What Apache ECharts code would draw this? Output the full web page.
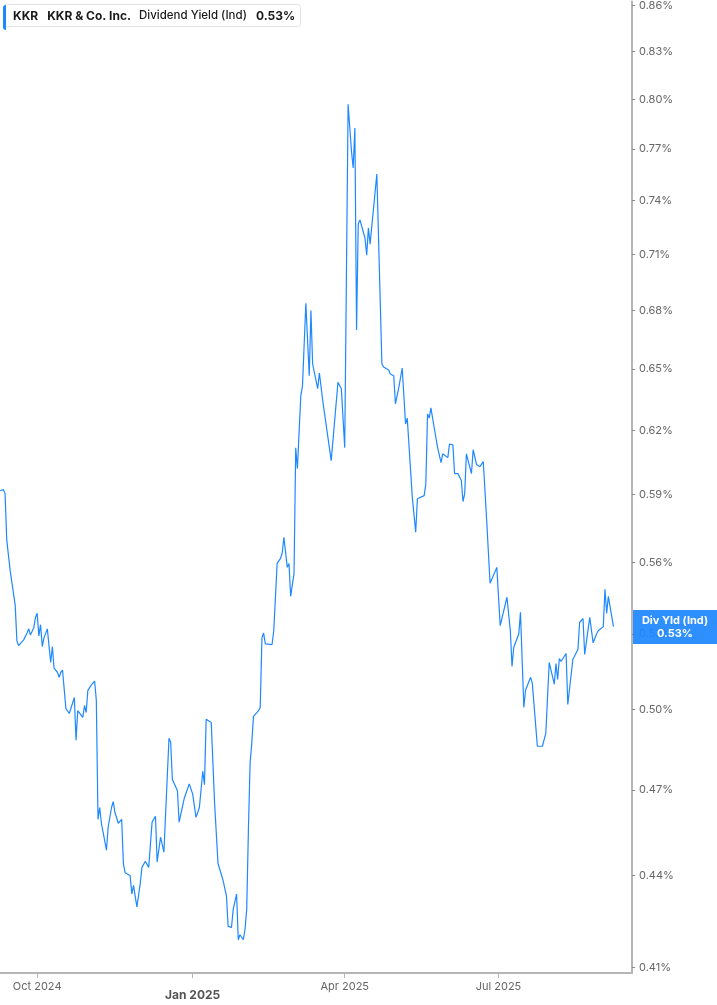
<!DOCTYPE html>
<html>
<head>
<meta charset="utf-8">
<script src="https://cdn.jsdelivr.net/npm/echarts@6/dist/echarts.min.js"></script>
<style>
html,body{margin:0;padding:0;background:#fff;}
#chart{width:717px;height:1005px;}
</style>
</head>
<body>
<div id="chart"></div>
<script>
const dates = [
'2024-09-09','2024-09-11','2024-09-12','2024-09-13','2024-09-15','2024-09-18','2024-09-19','2024-09-20','2024-09-21','2024-09-23',
'2024-09-25','2024-09-26','2024-09-27','2024-09-29','2024-09-30','2024-10-01','2024-10-02','2024-10-03','2024-10-04','2024-10-05',
'2024-10-07','2024-10-08','2024-10-09','2024-10-10','2024-10-11','2024-10-13','2024-10-14','2024-10-15','2024-10-16','2024-10-18',
'2024-10-20','2024-10-21','2024-10-23','2024-10-24','2024-10-25','2024-10-28','2024-10-29','2024-10-30','2024-10-31','2024-11-02',
'2024-11-04','2024-11-05','2024-11-06','2024-11-07','2024-11-08','2024-11-11','2024-11-12','2024-11-14','2024-11-15','2024-11-16',
'2024-11-18','2024-11-19','2024-11-20','2024-11-21','2024-11-22','2024-11-25','2024-11-26','2024-11-27','2024-11-29','2024-12-01',
'2024-12-02','2024-12-04','2024-12-06','2024-12-08','2024-12-10','2024-12-11','2024-12-13','2024-12-15','2024-12-18','2024-12-19',
'2024-12-20','2024-12-23','2024-12-24','2024-12-25','2024-12-27','2024-12-30','2025-01-01','2025-01-03','2025-01-05','2025-01-07',
'2025-01-08','2025-01-09','2025-01-12','2025-01-14','2025-01-16','2025-01-19','2025-01-21','2025-01-22','2025-01-24','2025-01-25',
'2025-01-27','2025-01-28','2025-01-29','2025-01-31','2025-02-01','2025-02-02','2025-02-03','2025-02-04','2025-02-05','2025-02-06',
'2025-02-09','2025-02-10','2025-02-11','2025-02-12','2025-02-13','2025-02-17','2025-02-18','2025-02-20','2025-02-22','2025-02-23',
'2025-02-24','2025-02-26','2025-02-27','2025-02-28','2025-03-02','2025-03-03','2025-03-04','2025-03-06','2025-03-07','2025-03-09',
'2025-03-11','2025-03-12','2025-03-13','2025-03-16','2025-03-17','2025-03-19','2025-03-20','2025-03-24','2025-03-25','2025-03-28',
'2025-03-30','2025-04-01','2025-04-03','2025-04-05','2025-04-06','2025-04-07','2025-04-08','2025-04-09','2025-04-10','2025-04-13',
'2025-04-14','2025-04-15','2025-04-16','2025-04-20','2025-04-23','2025-04-24','2025-04-27','2025-04-28','2025-04-30','2025-05-01',
'2025-05-03','2025-05-05','2025-05-07','2025-05-08','2025-05-11','2025-05-13','2025-05-14','2025-05-15','2025-05-18','2025-05-19',
'2025-05-20','2025-05-21','2025-05-22','2025-05-24','2025-05-26','2025-05-27','2025-05-28','2025-05-29','2025-06-01','2025-06-02',
'2025-06-04','2025-06-05','2025-06-07','2025-06-08','2025-06-09','2025-06-10','2025-06-11','2025-06-12','2025-06-15','2025-06-16',
'2025-06-18','2025-06-20','2025-06-22','2025-06-24','2025-06-26','2025-06-30','2025-07-02','2025-07-06','2025-07-08','2025-07-09',
'2025-07-10','2025-07-13','2025-07-14','2025-07-16','2025-07-17','2025-07-20','2025-07-21','2025-07-24','2025-07-27','2025-07-29',
'2025-07-31','2025-08-03','2025-08-04','2025-08-05','2025-08-06','2025-08-07','2025-08-10','2025-08-11','2025-08-12','2025-08-14',
'2025-08-17','2025-08-18','2025-08-20','2025-08-21','2025-08-24','2025-08-26','2025-08-28','2025-08-29','2025-09-01','2025-09-02',
'2025-09-03','2025-09-04','2025-09-07'
];
const divYield = [
0.5918,0.5923,0.5905,0.5697,0.5566,0.5418,0.5272,0.5253,0.5260,0.5276,
0.5304,0.5321,0.5296,0.5325,0.5368,0.5385,0.5292,0.5338,0.5249,0.5284,
0.5321,0.5325,0.5185,0.5249,0.5162,0.5146,0.5126,0.5146,0.5154,0.5004,
0.4985,0.4978,0.5047,0.4884,0.4996,0.4970,0.5016,0.4989,0.5075,0.5095,
0.5111,0.5036,0.4595,0.4637,0.4581,0.4487,0.4567,0.4637,0.4658,0.4620,
0.4581,0.4578,0.4595,0.4442,0.4410,0.4400,0.4338,0.4367,0.4295,0.4374,
0.4428,0.4449,0.4428,0.4585,0.4606,0.4446,0.4532,0.4480,0.4891,0.4876,
0.4738,0.4697,0.4585,0.4585,0.4669,0.4722,0.4686,0.4602,0.4637,0.4768,
0.4719,0.4963,0.4951,0.4651,0.4442,0.4384,0.4332,0.4231,0.4228,0.4287,
0.4338,0.4188,0.4204,0.4188,0.4221,0.4287,0.4557,0.4798,0.4873,0.4974,
0.4996,0.5008,0.5284,0.5304,0.5260,0.5257,0.5313,0.5596,0.5618,0.5640,
0.5710,0.5579,0.5596,0.5456,0.5553,0.6117,0.6020,0.6367,0.6416,0.6838,
0.6466,0.6800,0.6525,0.6402,0.6480,0.6343,0.6348,0.6057,0.6062,0.6434,
0.6402,0.6117,0.7970,0.7687,0.7588,0.7825,0.6698,0.7268,0.7291,0.7190,
0.7095,0.7246,0.7156,0.7553,0.6525,0.6510,0.6495,0.6475,0.6466,0.6328,
0.6407,0.6505,0.6230,0.6259,0.5887,0.5732,0.5882,0.5874,0.5896,0.5951,
0.6279,0.6259,0.6308,0.6210,0.6117,0.6108,0.6048,0.6089,0.6071,0.6135,
0.6131,0.5997,0.5997,0.5997,0.5965,0.5869,0.5905,0.6089,0.5997,0.6108,
0.6039,0.6029,0.6052,0.5785,0.5511,0.5579,0.5334,0.5452,0.5313,0.5169,
0.5245,0.5300,0.5389,0.5008,0.5075,0.5126,0.5103,0.4861,0.4861,0.4910,
0.5185,0.5099,0.5181,0.5118,0.5201,0.5189,0.5221,0.5020,0.5016,0.5197,
0.5237,0.5347,0.5363,0.5217,0.5368,0.5264,0.5300,0.5313,0.5330,0.5486,
0.5385,0.5456,0.5330
];
const yTicks = [0.41,0.44,0.47,0.50,0.53,0.56,0.59,0.62,0.65,0.68,0.71,0.74,0.77,0.80,0.83,0.86];
const xTicks = ['2024-10-01','2025-01-01','2025-04-01','2025-07-01'];
const xRange = ['2024-09-09','2025-09-18'];
const yRange = [0.4082, 0.8627];
const ticker = 'KKR', company = 'KKR & Co. Inc.', metric = 'Dividend Yield (Ind)', shortMetric = 'Div Yld (Ind)';

const toTs = s => Date.parse(s + 'T00:00:00Z');
const lastVal = divYield[divYield.length - 1];
const fmtPct = v => v.toFixed(2) + '%';
const MONTHS = ['Jan','Feb','Mar','Apr','May','Jun','Jul','Aug','Sep','Oct','Nov','Dec'];
const chart = echarts.init(document.getElementById('chart'), null, {renderer: 'canvas'});
const FONT = 'Inter, Roboto, "Noto Sans", sans-serif';

chart.setOption({
  animation: false,
  backgroundColor: '#fff',
  grid: {left: 0, right: 85, top: 0, bottom: 32, containLabel: false},
  title: {
    text: '{a|' + ticker + '}{b|' + company + '}{c|' + metric + '}{d|' + fmtPct(lastVal) + '}',
    left: 3, top: 4,
    backgroundColor: '#fff', borderColor: '#e3e3e3', borderWidth: 1, borderRadius: 3,
    padding: [6, 6, 5, 10],
    textStyle: {
      rich: {
        a: {fontFamily: FONT, fontSize: 12, fontWeight: 'bold', color: '#1a1a1a', padding: [0, 9, 0, 0]},
        b: {fontFamily: FONT, fontSize: 12, fontWeight: 'bold', color: '#1a1a1a', padding: [0, 8, 0, 0]},
        c: {fontFamily: FONT, fontSize: 11.5, fontWeight: 500, color: '#1a1a1a', padding: [0, 9, 0, 0]},
        d: {fontFamily: FONT, fontSize: 12, fontWeight: 'bold', color: '#1a1a1a'}
      }
    }
  },
  graphic: [{type: 'rect', left: 3, top: 5, shape: {width: 3, height: 25, r: [3, 0, 0, 3]}, style: {fill: '#1e88ff'}, z: 100}],
  xAxis: {
    type: 'value',
    min: toTs(xRange[0]), max: toTs(xRange[1]),
    splitLine: {show: false},
    axisLine: {show: true, lineStyle: {color: '#b5b5b5', width: 2}},
    axisTick: {show: true, customValues: xTicks.map(toTs), length: 5, lineStyle: {color: '#b5b5b5', width: 1}},
    axisLabel: {
      customValues: xTicks.map(toTs),
      margin: 8,
      color: '#666', fontFamily: FONT, fontSize: 11,
      formatter: function (val) {
        const d = new Date(val);
        const m = d.getUTCMonth();
        const s = MONTHS[m] + ' ' + d.getUTCFullYear();
        return m === 0 ? '{y|' + s + '}' : s;
      },
      rich: {y: {fontFamily: FONT, fontSize: 12, fontWeight: 'bold', color: '#555', padding: [8, 0, 0, 0]}}
    }
  },
  yAxis: {
    type: 'log', logBase: 10, position: 'right',
    min: yRange[0], max: yRange[1],
    splitLine: {show: false},
    axisLine: {show: true, lineStyle: {color: '#b5b5b5', width: 2}},
    axisTick: {show: true, customValues: yTicks, length: 3, lineStyle: {color: '#888'}},
    axisLabel: {customValues: yTicks, margin: 7, color: '#666', fontFamily: FONT, fontSize: 11, formatter: v => fmtPct(v)}
  },
  series: [{
    type: 'line',
    data: dates.map((d, i) => [toTs(d), divYield[i]]),
    showSymbol: false,
    lineStyle: {color: '#1e88ff', width: 1.2},
    markLine: {
      silent: true, symbol: ['none', 'none'],
      lineStyle: {color: 'rgba(0,0,0,0)', width: 0, type: 'solid'},
      emphasis: {disabled: true},
      data: [{yAxis: lastVal}],
      label: {
        show: true, position: 'end', distance: 1, offset: [42, -7],
        formatter: shortMetric + '\n' + fmtPct(lastVal),
        backgroundColor: 'rgba(30,136,255,0.93)', color: '#fff',
        fontFamily: FONT, fontSize: 11, fontWeight: 'bold', lineHeight: 13,
        width: 76, align: 'center', padding: [4, 4]
      }
    }
  }]
});
</script>
</body>
</html>
